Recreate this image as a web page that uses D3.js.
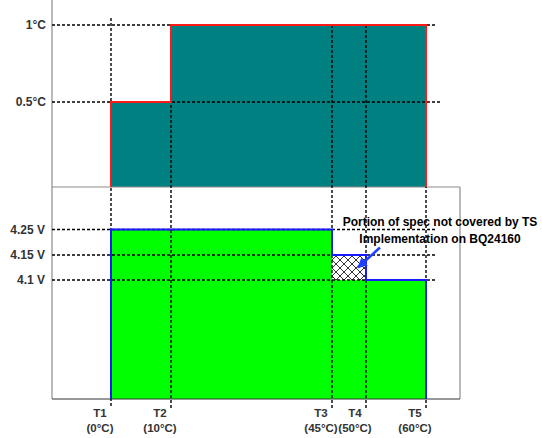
<!DOCTYPE html>
<html>
<head>
<meta charset="utf-8">
<script src="https://cdn.jsdelivr.net/npm/d3@7"></script>
<style>
  body { margin: 0; background: #fff; }
  text { font-family: 'Liberation Sans', Arial, sans-serif; font-weight: bold; fill: #333; }
</style>
</head>
<body>
<svg id="chart" width="542" height="438"></svg>
<script>
// temperature breakpoints
var tLabels = ['T1', 'T2', 'T3', 'T4', 'T5']
var tTemps = [0, 10, 45, 50, 60]
// level over each interval T1-T2, T2-T3, T3-T4, T4-T5
var currentLevels = [0.5, 1, 1, 1]
var currentTicks = [1, 0.5]
var currentTickLabels = ['1°C', '0.5°C']
var voltSpec = [4.25, 4.25, 4.15, 4.1]
var voltTS = [4.25, 4.25, 4.1, 4.1]
var voltTicks = [4.25, 4.15, 4.1]
var voltTickLabels = ['4.25 V', '4.15 V', '4.1 V']
var noteLines = ['Portion of spec not covered by TS', 'Implementation on BQ24160']

var svg = d3.select('#chart')
var left = 52
var right = 460
var topBase = 187
var botBase = 399

// schematic (non uniform) temperature axis
var x = d3.scaleLinear()
  .domain(tTemps)
  .range([111, 171, 332, 366, 426])
var yTop = d3.scaleLinear()
  .domain([0, 1])
  .range([179, 25])
var yBot = d3.scaleLinear()
  .domain([4.1, 4.15, 4.25])
  .range([280, 255, 229.5])

// step points: one per interval start, plus the end of the last one
function steps (levels) {
  var pts = levels.map((v, i) => ({t: tTemps[i], v: v}))
  pts.push({t: tTemps[tTemps.length - 1], v: levels[levels.length - 1]})
  return pts
}

var defs = svg.append('defs')
var hatch = defs.append('pattern')
  .attr('id', 'hatch')
  .attr('patternUnits', 'userSpaceOnUse')
  .attr('width', 8)
  .attr('height', 8)
hatch.append('rect').attr('width', 8).attr('height', 8).attr('fill', '#fff')
hatch.append('path')
  .attr('d', 'M0,0L8,8M8,0L0,8M-1,7L1,9M7,-1L9,1')
  .attr('stroke', '#000')
  .attr('stroke-width', 0.8)
defs.append('marker')
  .attr('id', 'arrow')
  .attr('viewBox', '0 0 10 10')
  .attr('refX', 9)
  .attr('refY', 5)
  .attr('markerWidth', 4)
  .attr('markerHeight', 4)
  .attr('orient', 'auto')
  .append('path')
  .attr('d', 'M0,0L10,5L0,10z')
  .attr('fill', '#1f3fff')

// fills
var topArea = d3.area().curve(d3.curveStepAfter)
  .x((d) => x(d.t)).y0(topBase).y1((d) => yTop(d.v))
svg.append('path')
  .datum(steps(currentLevels))
  .attr('fill', '#008080')
  .attr('d', topArea)

var botArea = d3.area().curve(d3.curveStepAfter)
  .x((d) => x(d.t)).y0(botBase).y1((d) => yBot(d.v))
svg.append('path')
  .datum(steps(voltTS))
  .attr('fill', '#00ff00')
  .attr('d', botArea)

// part of the spec the TS implementation misses
var gapArea = d3.area().curve(d3.curveStepAfter)
  .x((d) => x(d.t))
  .y0((d, i) => yBot(steps(voltTS)[i].v))
  .y1((d) => yBot(d.v))
svg.append('path')
  .datum(steps(voltSpec))
  .attr('fill', 'url(#hatch)')
  .attr('d', gapArea)

// frame
var frame = svg.append('g').attr('stroke', '#8c8c8c').attr('stroke-width', 1.2)
frame.append('line').attr('x1', left).attr('x2', left).attr('y1', 0).attr('y2', botBase)
frame.append('line').attr('x1', left).attr('x2', right).attr('y1', topBase).attr('y2', topBase)
frame.append('line').attr('x1', right).attr('x2', right).attr('y1', topBase).attr('y2', botBase)
frame.append('line').attr('x1', left).attr('x2', right).attr('y1', botBase).attr('y2', botBase)
  .attr('stroke', '#333')

// dashed guides
var grid = svg.append('g')
  .attr('stroke', '#000')
  .attr('stroke-width', 1.4)
  .attr('stroke-dasharray', '3,2')
grid.selectAll('.vg')
  .data(tTemps)
  .enter().append('line')
  .attr('x1', (d) => x(d)).attr('x2', (d) => x(d))
  .attr('y1', (d, i) => i === 0 ? yTop(1) - 7 : yTop(1))
  .attr('y2', botBase + 9)
grid.selectAll('.hc')
  .data(currentTicks)
  .enter().append('line')
  .attr('x1', left)
  .attr('x2', (d, i) => i === 0 ? 437 : 442)
  .attr('y1', (d) => yTop(d)).attr('y2', (d) => yTop(d))
grid.selectAll('.hv')
  .data(voltTicks)
  .enter().append('line')
  .attr('x1', left).attr('x2', 437)
  .attr('y1', (d) => yBot(d)).attr('y2', (d) => yBot(d))

// outlines
var topLine = d3.line().curve(d3.curveStepAfter)
  .x((d) => x(d.t)).y((d) => d.v === null ? topBase : yTop(d.v))
var topPts = steps(currentLevels)
topPts.unshift({t: tTemps[0], v: null})
topPts.push({t: tTemps[tTemps.length - 1], v: null})
svg.append('path')
  .datum(topPts)
  .attr('fill', 'none')
  .attr('stroke', '#ff1a1a')
  .attr('stroke-width', 2)
  .attr('d', topLine)

var botLine = d3.line().curve(d3.curveStepAfter)
  .x((d) => x(d.t)).y((d) => d.v === null ? botBase : yBot(d.v))
var botPts = steps(voltSpec)
botPts.unshift({t: tTemps[0], v: null})
botPts.push({t: tTemps[tTemps.length - 1], v: null})
svg.append('path')
  .datum(botPts)
  .attr('fill', 'none')
  .attr('stroke', '#1a1aff')
  .attr('stroke-width', 2)
  .attr('d', botLine)

// tick labels
svg.selectAll('.tc')
  .data(currentTicks)
  .enter().append('text')
  .attr('x', left - 6)
  .attr('y', (d) => yTop(d) + 4)
  .attr('text-anchor', 'end')
  .style('font-size', '12px')
  .text((d, i) => currentTickLabels[i])
svg.selectAll('.tv')
  .data(voltTicks)
  .enter().append('text')
  .attr('x', left - 7)
  .attr('y', (d) => yBot(d) + 4)
  .attr('text-anchor', 'end')
  .style('font-size', '12px')
  .text((d, i) => voltTickLabels[i])

var tl = svg.selectAll('.tl')
  .data(tTemps)
  .enter().append('text')
  .attr('text-anchor', 'middle')
  .style('font-size', '11.5px')
tl.append('tspan')
  .attr('x', (d) => x(d) - 11)
  .attr('y', 417)
  .text((d, i) => tLabels[i])
tl.append('tspan')
  .attr('x', (d) => x(d) - 11)
  .attr('y', 432)
  .text((d) => '(' + d + '°C)')

// annotation
var gapX = (x(tTemps[2]) + x(tTemps[3])) / 2
var gapY = (yBot(voltSpec[2]) + yBot(voltTS[2])) / 2
svg.append('line')
  .attr('x1', gapX + 31).attr('y1', gapY - 20)
  .attr('x2', gapX + 9).attr('y2', gapY)
  .attr('stroke', '#1f3fff')
  .attr('stroke-width', 2.5)
  .attr('marker-end', 'url(#arrow)')
svg.selectAll('.note')
  .data(noteLines)
  .enter().append('text')
  .attr('x', 440)
  .attr('y', (d, i) => 226 + i * 17)
  .attr('text-anchor', 'middle')
  .style('font-size', '12px')
  .style('fill', '#000')
  .text((d) => d)
</script>
</body>
</html>
